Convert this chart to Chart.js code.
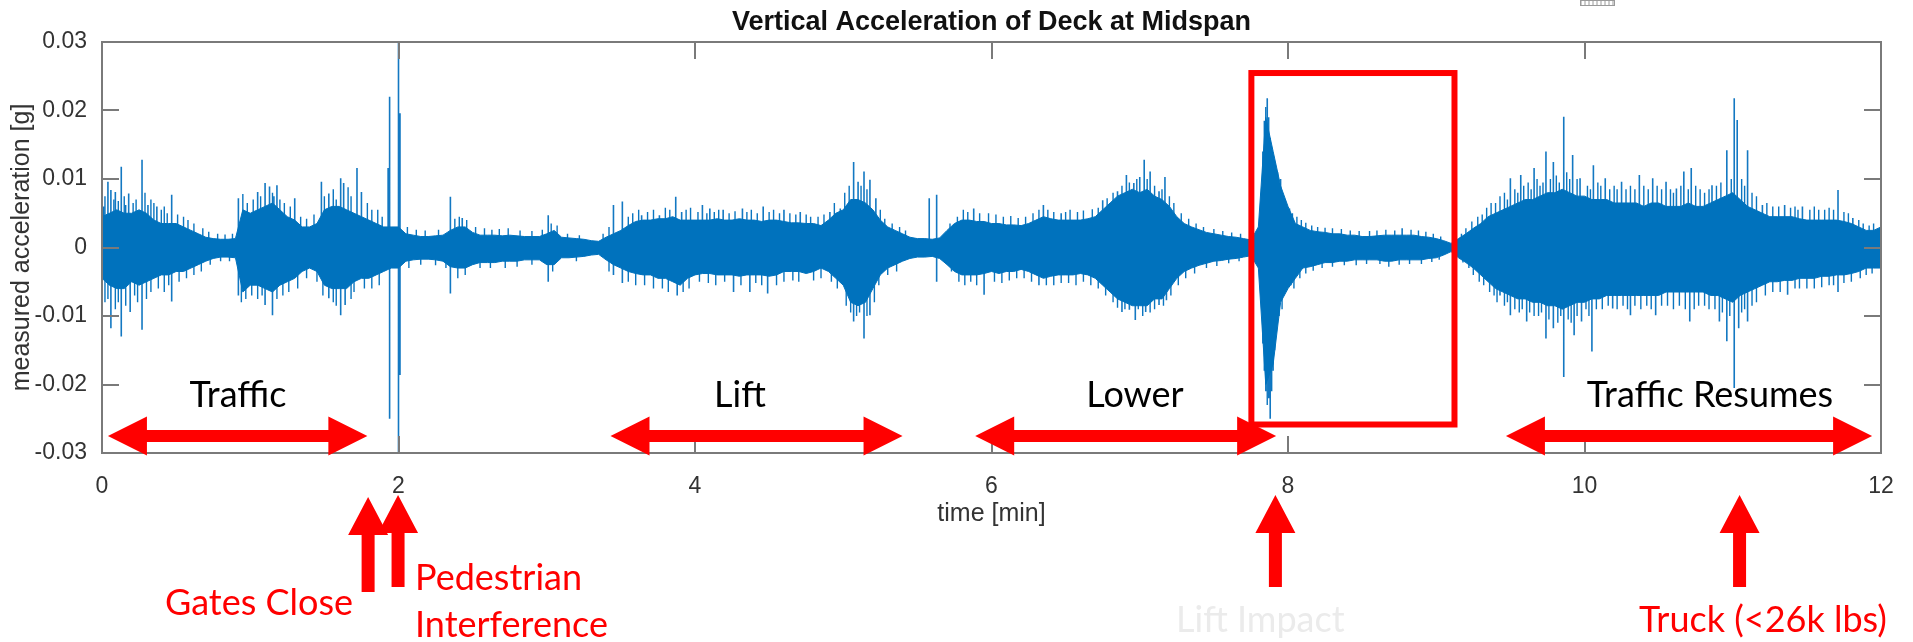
<!DOCTYPE html>
<html>
<head>
<meta charset="utf-8">
<script src="https://cdn.jsdelivr.net/npm/chart.js@4.4.1/dist/chart.umd.min.js"></script>
<style>
  html, body { margin: 0; padding: 0; background: #ffffff; overflow: hidden; }
  canvas { display: block; }
</style>
</head>
<body>
<canvas id="chart" width="1913" height="642"></canvas>
<script>
// ---- Text ----
const TITLE = 'Vertical Acceleration of Deck at Midspan';
const X_LABEL = 'time [min]';
const Y_LABEL = 'measured acceleration [g]';

// ---- Axis ticks ----
const xTickValues = [0, 2, 4, 6, 8, 10, 12];
const yTickValues = [-0.03, -0.02, -0.01, 0, 0.01, 0.02, 0.03];
const yTickLabels = ['-0.03', '-0.02', '-0.01', '0', '0.01', '0.02', '0.03'];

// ---- Signal: dense core envelope, sampled every 0.05 min (values in milli-g) ----
const envelopeStep = 0.05;
const envelopeUpper = [
  4.5, 5, 5.5, 5, 5, 5.5, 5, 4, 3.5, 3.5, 3.5, 3, 2.5, 2, 1.5, 1.3, 1.2, 1.2, 1.3, 5.5,
  5, 5.5, 6, 6.5, 5.5, 4.5, 4, 3, 3, 3.5, 5.5, 6, 6, 5.5, 5, 4.5, 4, 3.5, 3, 3,
  3, 2, 1.8, 1.6, 1.6, 1.7, 1.8, 2.5, 3, 3, 2.2, 1.8, 1.8, 1.8, 1.7, 1.8, 1.7, 1.6, 1.6, 1.6,
  2, 2.5, 1.5, 1.4, 1.3, 1.2, 1, 0.9, 1.5, 2, 2.5, 3.2, 3.8, 4, 4, 4.2, 4.2, 4.5, 4, 4,
  4, 4, 4, 4.2, 4, 4, 4.2, 4, 4, 3.8, 4, 4, 3.8, 3.6, 3.6, 3.5, 3.5, 3.2, 4, 5,
  5.5, 7, 7, 6.5, 5.5, 4, 3, 2.5, 2, 1.5, 1.3, 1.3, 1.2, 1.4, 2.5, 3.5, 4, 4, 3.8, 3.8,
  3.5, 3.5, 3.3, 3.3, 3.2, 3.5, 4, 4.5, 4.2, 4, 4, 4, 4, 4.2, 4.5, 5.5, 6.5, 7.5, 8, 8.5,
  8, 8.5, 7.5, 7, 6, 4.5, 3.5, 3, 2.6, 2.2, 2, 1.8, 1.6, 1.5, 1.3, 1.1, 3, 19, 14, 9,
  6, 3.5, 3, 2.5, 2.3, 2.2, 2, 2, 1.8, 1.8, 1.6, 1.6, 1.7, 1.8, 1.8, 1.8, 1.8, 1.8, 1.6, 1.5,
  1.3, 1, 0.6, 1.3, 2, 2.8, 3.5, 4.5, 5, 5.5, 6, 6.5, 7, 7, 7.5, 8, 8, 8.5, 8, 7.5,
  7.5, 7, 7, 7, 6.5, 6.5, 6.5, 6.5, 6, 6.5, 6.5, 6, 6, 6, 6.5, 6, 6, 6.5, 7, 7.5,
  8, 7, 6, 5.5, 5, 4.5, 4.5, 4.5, 4.5, 4.2, 4, 4, 4, 4, 4, 3.8, 3.5, 3, 2.5, 2.5,
  3
];
const envelopeLower = [
  -4.5, -5.5, -6, -6, -5, -5.5, -5, -4.5, -4, -4, -3.5, -3.5, -3, -2.5, -2, -1.6, -1.4, -1.4, -1.5, -6.5,
  -5.5, -5.5, -6, -6.5, -5.5, -5, -4.5, -3.5, -3, -3.5, -5.5, -6, -6, -6, -5, -4.5, -4.5, -4, -3.5, -3,
  -3, -2, -1.8, -1.7, -1.7, -1.8, -2, -2.8, -3, -3, -2.5, -2.2, -2.2, -2.2, -2, -2, -2, -1.8, -1.8, -1.8,
  -2.5, -2.5, -1.5, -1.5, -1.4, -1.3, -1.1, -1, -1.8, -2.5, -3, -3.5, -3.8, -4, -4, -4.5, -4.5, -5, -5.5, -4.5,
  -4, -3.8, -3.8, -4, -4, -4, -4.2, -4, -4, -4, -4.2, -4, -3.5, -3.5, -3.5, -3.8, -3.5, -3, -3.5, -4.5,
  -5.5, -8, -8.5, -8, -6, -4, -3, -2.5, -2, -1.6, -1.4, -1.4, -1.3, -1.6, -2.5, -3.5, -4, -4, -4, -3.8,
  -3.5, -3.8, -3.5, -3.5, -3.2, -3.5, -4, -4.5, -4.2, -4, -4, -4, -3.8, -4, -4.5, -5.5, -6.5, -7.5, -8, -8.5,
  -8.5, -8.5, -7.5, -7.5, -6, -4.5, -3.5, -3, -2.6, -2.3, -2, -1.9, -1.7, -1.6, -1.4, -1.2, -3, -20, -17, -8,
  -6, -4.5, -3, -2.8, -2.5, -2.2, -2.2, -2, -2, -1.8, -1.8, -1.8, -1.8, -2, -2, -1.8, -1.8, -1.8, -1.8, -1.6,
  -1.5, -1.1, -0.6, -1.5, -2.2, -3, -4, -5, -6, -6.5, -7, -7.5, -7.5, -8, -8, -8.5, -8.5, -9, -8.5, -8,
  -8, -7.5, -7.5, -7, -7, -7, -7, -7, -7, -7, -7, -6.5, -6.5, -6.5, -6.5, -6.5, -6.5, -7, -7, -7.5,
  -8, -7, -6.5, -6, -5.5, -5, -5, -4.8, -4.8, -4.5, -4.5, -4.5, -4.2, -4.2, -4, -4, -3.8, -3.5, -3, -3,
  -3
];

// ---- Signal: prominent peaks rising out of the core, [minute, milli-g] ----
const spikePeaks = [
  [0.04, 9.6], [0.06, 8.4], [0.09, 8.1], [0.13, 11.8], [0.18, 7.9], [0.27, 12.8], [0.31, 6.2], [0.37, 6], [0.47, 7.7],
  [0.92, 7.2], [1.05, 8.1], [1.10, 9.4], [1.13, 8.9], [1.18, 9.1], [1.30, 7.2], [1.48, 9.6], [1.53, 7.9], [1.61, 10.1],
  [1.63, 9.4], [1.72, 11.6], [1.75, 8.1], [1.93, 11.6], [1.94, 22], [2.00, 30], [2.01, 19.6],
  [2.35, 7.4], [2.43, 4.3], [3.01, 4.7], [3.45, 6.2], [3.51, 6.7], [3.64, 4.7], [3.76, 4.7], [3.87, 7.4], [3.91, 5.2],
  [4.05, 6.2], [4.10, 5.7], [4.19, 5.5], [4.32, 5.7], [4.46, 6], [4.60, 5.5], [4.71, 5.2], [4.91, 5.2], [4.98, 5.7],
  [5.07, 12.5], [5.10, 9.6], [5.14, 11.1], [5.18, 9.9], [5.22, 7.2], [5.58, 7.2], [5.63, 7.7], [5.88, 5.7],
  [6.35, 6.2], [6.47, 5], [6.75, 6.9], [6.85, 8.2], [6.91, 10.6], [6.96, 9.4], [7.00, 10.3], [7.03, 12.8], [7.07, 11.1],
  [7.13, 8.2], [7.17, 10.3], [7.86, 21.8], [7.91, 12.5], [7.95, 10],
  [8.01, 5.7], [8.77, 2.8], [9.50, 10.1], [9.57, 10.6], [9.66, 11.6], [9.74, 14], [9.79, 12.5], [9.86, 19.1], [9.92, 13.5],
  [9.97, 10.1], [10.06, 12], [10.14, 10.1], [10.25, 9.6], [10.37, 10.6], [10.46, 10.1], [10.55, 9.6], [10.62, 8.6],
  [10.67, 11.1], [10.72, 11.6], [10.86, 9.1], [10.96, 14.2], [11.01, 21.8], [11.03, 18.6], [11.10, 14.2], [11.20, 6.2],
  [11.35, 6.2], [11.47, 6], [11.71, 8.4], [11.81, 4.3], [11.98, 2.3],
  [0.06, -11.8], [0.13, -13], [0.19, -9.4], [0.27, -12], [0.47, -7.9], [0.92, -7], [1.10, -8.4], [1.15, -9.9],
  [1.53, -7.4], [1.61, -9.9], [1.64, -8.4], [1.94, -25], [2.00, -30], [2.01, -18.6],
  [2.35, -6.7], [3.01, -5], [3.45, -4], [3.51, -5.2], [3.88, -7],
  [4.26, -6.5], [4.37, -6.5], [4.49, -6.7], [5.07, -10.8], [5.14, -13.3], [5.18, -9.9], [5.63, -5], [5.95, -6.9],
  [6.32, -5.5], [6.88, -9.4], [6.93, -9.1], [6.97, -10.6], [7.04, -9.4], [7.13, -8.4], [7.18, -7.7], [7.87, -22], [7.88, -25],
  [7.97, -7], [9.43, -7], [9.50, -9.9], [9.61, -10.8], [9.74, -13.3], [9.79, -11.8], [9.86, -18.9], [9.93, -12.8],
  [9.98, -10.8], [10.05, -15.2], [10.19, -8.9], [10.31, -9.9], [10.48, -9.9], [10.71, -10.8], [10.91, -10.8],
  [10.96, -13.7], [11.01, -20.5], [11.04, -11.8], [11.10, -10.8], [11.37, -6.9], [11.71, -6.5]
];

// ---- Signal: smaller peaks along the edge of the core, [minute, milli-g] ----
const fringePeaks = [
  [0.01, 6], [0.02, 7.5], [0.08, 7], [0.11, 6.8], [0.15, 7.5], [0.16, 6.2], [0.21, 6.5], [0.23, 7], [0.29, 8], [0.33, 7],
  [0.35, 6.5], [0.40, 5.5], [0.42, 6], [0.44, 5], [0.51, 4.8], [0.55, 4.5], [0.58, 4], [0.62, 3.5], [0.68, 2.8], [0.72, 2.3],
  [0.78, 2], [0.83, 1.9], [0.88, 2],
  [0.02, -8], [0.04, -7.5], [0.09, -9], [0.11, -8], [0.16, -8.5], [0.22, -7], [0.24, -8], [0.30, -7.5], [0.33, -6.5],
  [0.38, -6], [0.42, -6.5], [0.45, -5.5], [0.52, -5], [0.57, -4.5], [0.62, -4], [0.67, -3.5], [0.73, -2.5], [0.80, -2], [0.86, -2],
  [0.95, 7.8], [0.98, 6.5], [1.02, 7], [1.07, 7.5], [1.15, 8], [1.16, 7.5], [1.20, 7], [1.23, 6.5], [1.27, 6], [1.34, 4.5],
  [1.38, 4.2], [1.43, 4.8], [1.50, 7.5], [1.56, 8.5], [1.58, 7], [1.66, 8.8], [1.68, 7.5], [1.79, 6.5], [1.82, 5.5],
  [1.86, 5.5], [1.89, 4.5],
  [0.94, -8], [0.97, -7.5], [1.01, -7], [1.05, -7.5], [1.08, -7], [1.18, -7.5], [1.22, -7], [1.26, -6.5], [1.32, -6],
  [1.38, -4.5], [1.45, -5], [1.49, -7], [1.56, -8], [1.58, -8.5], [1.68, -7.5], [1.70, -6.5], [1.77, -6], [1.82, -6], [1.87, -5.5],
  [2.06, 3], [2.12, 2.6], [2.18, 2.5], [2.27, 2.6], [2.38, 4.2], [2.41, 4.5], [2.46, 4], [2.52, 3], [2.58, 2.8], [2.63, 2.6],
  [2.68, 2.7], [2.74, 2.8], [2.82, 2.5], [2.90, 2.4], [2.97, 2.6], [3.03, 3.5], [3.07, 3.2], [3.14, 2], [3.22, 1.8], [3.38, 2],
  [3.42, 3], [3.55, 4.5], [3.58, 5], [3.62, 5.5], [3.68, 5.2], [3.72, 5.5], [3.80, 5.8], [3.83, 5.5], [3.94, 5.5], [3.97, 5.8],
  [2.07, -3], [2.15, -2.5], [2.25, -2.6], [2.32, -3], [2.40, -4.5], [2.45, -4], [2.55, -3], [2.62, -3], [2.72, -3], [2.80, -2.8],
  [2.90, -2.5], [3.04, -3.5], [3.20, -2], [3.42, -3.5], [3.55, -5], [3.60, -5.5], [3.66, -5.5], [3.72, -6], [3.78, -6],
  [3.82, -6.5], [3.92, -6.5], [3.96, -6],
  [4.02, 5.2], [4.08, 5], [4.13, 5.2], [4.16, 5.5], [4.23, 5], [4.27, 5.3], [4.35, 5.2], [4.38, 5.5], [4.42, 5], [4.50, 5.2],
  [4.53, 5.5], [4.57, 5], [4.64, 5], [4.68, 4.8], [4.75, 4.8], [4.78, 4.5], [4.83, 4.5], [4.87, 4.8], [4.94, 6.5], [5.01, 8],
  [5.04, 9], [5.12, 9], [5.16, 8.5], [5.25, 5.5], [5.28, 4.2], [5.33, 3.5], [5.38, 3], [5.42, 2.5], [5.72, 3.5], [5.77, 4.5],
  [5.81, 5.5], [5.84, 5.2], [5.92, 5], [5.98, 5],
  [4.03, -5], [4.09, -5.2], [4.14, -5.5], [4.20, -5], [4.31, -5.5], [4.41, -5.2], [4.45, -5.5], [4.55, -5.5], [4.60, -5],
  [4.66, -4.8], [4.70, -5], [4.80, -4.8], [4.85, -4.5], [4.92, -5], [4.96, -6], [5.02, -8.5], [5.05, -9.5], [5.09, -10],
  [5.11, -9.5], [5.16, -10], [5.21, -8], [5.24, -5.5], [5.30, -4], [5.36, -3.5], [5.73, -3.5], [5.78, -5], [5.82, -5.5],
  [5.86, -5], [5.90, -5.5],
  [6.03, 4.8], [6.08, 4.5], [6.13, 4.6], [6.18, 4.3], [6.23, 4.5], [6.28, 5], [6.32, 5.5], [6.38, 5.5], [6.42, 5.2], [6.50, 5.2],
  [6.53, 5.5], [6.58, 5.2], [6.62, 5.4], [6.68, 5.6], [6.72, 5.8], [6.78, 7.2], [6.82, 8], [6.88, 9], [6.93, 9.5], [6.98, 10],
  [7.05, 10], [7.10, 9], [7.15, 8.5], [7.20, 7.5], [7.23, 6.5], [7.28, 5], [7.33, 4.2], [7.38, 3.5], [7.43, 3], [7.50, 2.7],
  [7.56, 2.4], [7.62, 2.2], [7.68, 2],
  [6.02, -5], [6.07, -5.2], [6.12, -4.8], [6.17, -4.5], [6.22, -4.5], [6.27, -5], [6.37, -5.5], [6.42, -5.5], [6.47, -5.2],
  [6.52, -5.2], [6.57, -5.5], [6.62, -5], [6.67, -5.5], [6.72, -6], [6.77, -7], [6.82, -8], [6.85, -8.8], [6.90, -9],
  [6.99, -9], [7.02, -10], [7.07, -9.5], [7.10, -9], [7.16, -8.5], [7.21, -7], [7.26, -5.5], [7.31, -4.5], [7.37, -3.8],
  [7.45, -3], [7.52, -2.7], [7.60, -2.3], [7.67, -2],
  [7.82, 8], [7.83, 14], [7.84, 18.5], [7.85, 20.5], [7.87, 19], [7.88, 16], [7.89, 14], [7.90, 13], [7.93, 11], [7.94, 9],
  [7.96, 8], [7.98, 7],
  [7.82, -8], [7.83, -14], [7.84, -18], [7.85, -21], [7.86, -23], [7.89, -21], [7.90, -18], [7.91, -15], [7.92, -12],
  [7.94, -10], [7.96, -9],
  [8.03, 5], [8.06, 4.5], [8.09, 4], [8.12, 3.6], [8.16, 3.2], [8.20, 3], [8.25, 2.9], [8.30, 2.8], [8.36, 2.7], [8.42, 2.5],
  [8.48, 2.4], [8.55, 2.4], [8.60, 2.5], [8.66, 2.6], [8.72, 2.5], [8.83, 2.6], [8.88, 2.5], [8.93, 2.3], [8.98, 2], [9.03, 1.6],
  [8.02, -5.5], [8.04, -6], [8.08, -4.5], [8.12, -3.8], [8.17, -3.4], [8.23, -3], [8.30, -2.8], [8.38, -2.6], [8.46, -2.6],
  [8.53, -2.4], [8.62, -2.4], [8.68, -2.8], [8.75, -2.5], [8.82, -2.4], [8.90, -2.4], [8.97, -2.1], [9.02, -1.8],
  [9.17, 2], [9.20, 2.8], [9.24, 3.8], [9.28, 4.5], [9.31, 4.8], [9.34, 5.8], [9.37, 6.5], [9.40, 6.5], [9.43, 7.5], [9.46, 8],
  [9.48, 7], [9.53, 8.5], [9.55, 8], [9.59, 9], [9.62, 9.5], [9.64, 8.5], [9.68, 10], [9.70, 9], [9.72, 9.5], [9.77, 10],
  [9.81, 10.5], [9.83, 9.5], [9.88, 11], [9.90, 10], [9.95, 10],
  [9.18, -2.2], [9.22, -3], [9.25, -4], [9.29, -5], [9.32, -5.5], [9.36, -6.5], [9.39, -7], [9.41, -8], [9.46, -8.5],
  [9.48, -8], [9.53, -9], [9.56, -9.5], [9.58, -9], [9.63, -9.5], [9.66, -10], [9.69, -10], [9.71, -9.5], [9.76, -10.5],
  [9.82, -11], [9.84, -10], [9.89, -10.5], [9.91, -11], [9.95, -10],
  [10.02, 9], [10.04, 8.5], [10.09, 9.5], [10.11, 9], [10.17, 8.5], [10.20, 9], [10.22, 8.5], [10.28, 8.5], [10.31, 9],
  [10.34, 8.5], [10.40, 9], [10.43, 8.5], [10.49, 9], [10.52, 8.5], [10.58, 8.5], [10.60, 8], [10.65, 9], [10.70, 8.5],
  [10.75, 9], [10.78, 8.5], [10.81, 8], [10.84, 8.5], [10.89, 9], [10.92, 9.5], [10.99, 10], [11.06, 10], [11.08, 9],
  [11.13, 8], [11.16, 7.5], [11.23, 6.5], [11.27, 6], [11.31, 6], [11.39, 5.8], [11.42, 6], [11.44, 5.5], [11.52, 5.5],
  [11.55, 6], [11.58, 5.5], [11.62, 5.5], [11.65, 5.8], [11.68, 5.5], [11.75, 5.2], [11.78, 5], [11.85, 4], [11.88, 3.5],
  [11.92, 3.2], [11.95, 3.5],
  [10.01, -9], [10.03, -10], [10.08, -9], [10.12, -9], [10.16, -8.5], [10.22, -9], [10.26, -8.5], [10.29, -9], [10.34, -8.5],
  [10.38, -9], [10.42, -8.5], [10.45, -9], [10.52, -8.5], [10.56, -8.5], [10.60, -9], [10.64, -8.5], [10.68, -9], [10.74, -9],
  [10.77, -8.5], [10.81, -8.5], [10.84, -9], [10.88, -9], [10.93, -9.5], [10.98, -10], [11.06, -9.5], [11.08, -9],
  [11.13, -8.5], [11.16, -8], [11.22, -7], [11.27, -6.5], [11.32, -6.5], [11.42, -6], [11.45, -6], [11.50, -6], [11.55, -6],
  [11.60, -5.8], [11.65, -5.5], [11.68, -5.5], [11.75, -5.2], [11.80, -5], [11.86, -4.5], [11.90, -4], [11.94, -3.8]
];

// ---- Annotations (phases and events, in minutes) ----
const phaseNames = ['Traffic', 'Lift', 'Lower', 'Traffic Resumes'];
const phaseStart = [0.04, 3.43, 5.89, 9.47];
const phaseEnd = [1.79, 5.40, 7.92, 11.94];
const eventTimes = [1.795, 1.997, 7.915, 11.046];
const highlightWindow = { from: 7.753, to: 9.123, top: 0.02547, bottom: -0.02584 };

const MILLI = 0.001;
const BLUE = '#0072BD';
const RED = '#FF0000';
const MATLAB_FONT = '"Liberation Sans", Arial, Helvetica, sans-serif';
const NOTE_FONT = 'Lato, "Open Sans", sans-serif';

const upperPoints = envelopeUpper.map((v, i) => ({ x: i * envelopeStep, y: v * MILLI }));
const lowerPoints = envelopeLower.map((v, i) => ({ x: i * envelopeStep, y: v * MILLI }));
function peakSegments(peaks) {
  const pts = [];
  peaks.forEach(([t, v]) => pts.push({ x: t, y: 0 }, { x: t, y: v * MILLI }, { x: t, y: null }));
  return pts;
}

function doubleArrow(ctx, x1, x2, yc) {
  const shaft = 6, headLen = 39, headHalf = 19.5;
  ctx.beginPath();
  ctx.moveTo(x1, yc);
  ctx.lineTo(x1 + headLen, yc - headHalf);
  ctx.lineTo(x1 + headLen, yc - shaft);
  ctx.lineTo(x2 - headLen, yc - shaft);
  ctx.lineTo(x2 - headLen, yc - headHalf);
  ctx.lineTo(x2, yc);
  ctx.lineTo(x2 - headLen, yc + headHalf);
  ctx.lineTo(x2 - headLen, yc + shaft);
  ctx.lineTo(x1 + headLen, yc + shaft);
  ctx.lineTo(x1 + headLen, yc + headHalf);
  ctx.closePath();
  ctx.fill();
}

function upArrow(ctx, xc, tip, bottom) {
  const headH = 38, headHalf = 20, shaftHalf = 6.5;
  ctx.beginPath();
  ctx.moveTo(xc, tip);
  ctx.lineTo(xc + headHalf, tip + headH);
  ctx.lineTo(xc + shaftHalf, tip + headH);
  ctx.lineTo(xc + shaftHalf, bottom);
  ctx.lineTo(xc - shaftHalf, bottom);
  ctx.lineTo(xc - shaftHalf, tip + headH);
  ctx.lineTo(xc - headHalf, tip + headH);
  ctx.closePath();
  ctx.fill();
}

const figureDecor = {
  id: 'figureDecor',
  afterDraw(chart) {
    const { ctx, chartArea: a, scales: { x, y } } = chart;
    ctx.save();

    // box with inward ticks on all four sides
    ctx.strokeStyle = '#7a7a7a';
    ctx.lineWidth = 2;
    ctx.strokeRect(a.left, a.top, a.right - a.left, a.bottom - a.top);
    const tl = 17;
    ctx.beginPath();
    xTickValues.forEach(v => {
      const px = Math.round(x.getPixelForValue(v));
      ctx.moveTo(px, a.bottom); ctx.lineTo(px, a.bottom - tl);
      ctx.moveTo(px, a.top); ctx.lineTo(px, a.top + tl);
    });
    yTickValues.forEach(v => {
      const py = Math.round(y.getPixelForValue(v));
      ctx.moveTo(a.left, py); ctx.lineTo(a.left + tl, py);
      ctx.moveTo(a.right, py); ctx.lineTo(a.right - tl, py);
    });
    ctx.stroke();

    // title and axis labels
    ctx.fillStyle = '#111111';
    ctx.font = 'bold 27px ' + MATLAB_FONT;
    ctx.textAlign = 'center';
    ctx.textBaseline = 'middle';
    ctx.fillText(TITLE, (a.left + a.right) / 2, 23);

    ctx.fillStyle = '#333333';
    ctx.font = '25px ' + MATLAB_FONT;
    ctx.fillText(X_LABEL, (a.left + a.right) / 2, 514);
    ctx.save();
    ctx.translate(22, (a.top + a.bottom) / 2);
    ctx.rotate(-Math.PI / 2);
    ctx.fillText(Y_LABEL, 0, 0);
    ctx.restore();

    // small scale-bar glyph in the top margin
    ctx.strokeStyle = '#9a9a9a';
    ctx.lineWidth = 1;
    ctx.strokeRect(1580.5, 0.5, 34, 5);
    ctx.beginPath();
    for (let k = 0; k <= 8; k++) { ctx.moveTo(1581 + k * 4, 1); ctx.lineTo(1581 + k * 4, 5); }
    ctx.stroke();

    // phase arrows and labels
    const arrowY = y.getPixelForValue(-0.02752);
    ctx.fillStyle = RED;
    phaseNames.forEach((name, i) => {
      doubleArrow(ctx, x.getPixelForValue(phaseStart[i]), x.getPixelForValue(phaseEnd[i]), arrowY);
    });
    ctx.fillStyle = '#000000';
    ctx.font = '36px ' + NOTE_FONT;
    ctx.textAlign = 'center';
    ctx.textBaseline = 'alphabetic';
    const labelCenters = [238, 740, 1135, 1710];
    phaseNames.forEach((name, i) => ctx.fillText(name, labelCenters[i], 407));

    // highlighted window around the lift impact
    ctx.strokeStyle = RED;
    ctx.lineWidth = 6;
    const rx1 = x.getPixelForValue(highlightWindow.from), rx2 = x.getPixelForValue(highlightWindow.to);
    const ry1 = y.getPixelForValue(highlightWindow.top), ry2 = y.getPixelForValue(highlightWindow.bottom);
    ctx.strokeRect(rx1, ry1, rx2 - rx1, ry2 - ry1);

    // event arrows below the axis
    ctx.fillStyle = RED;
    upArrow(ctx, x.getPixelForValue(eventTimes[0]), 497, 592);
    upArrow(ctx, x.getPixelForValue(eventTimes[1]), 495, 587);
    upArrow(ctx, x.getPixelForValue(eventTimes[2]), 495, 587);
    upArrow(ctx, x.getPixelForValue(eventTimes[3]), 495, 587);

    ctx.font = '36px ' + NOTE_FONT;
    ctx.textAlign = 'left';
    ctx.fillStyle = RED;
    ctx.fillText('Gates Close', 165, 615);
    ctx.fillText('Pedestrian', 415, 590);
    ctx.fillText('Interference', 415, 637);
    ctx.fillText('Truck (<26k lbs)', 1639, 632);
    ctx.fillStyle = '#ebebeb';
    ctx.fillText('Lift Impact', 1176, 632);

    ctx.restore();
  }
};

new Chart(document.getElementById('chart'), {
  type: 'line',
  data: {
    datasets: [
      { data: upperPoints, fill: '+1', backgroundColor: BLUE, borderColor: BLUE, borderWidth: 1, pointRadius: 0, tension: 0, order: 1 },
      { data: lowerPoints, fill: false, borderColor: BLUE, borderWidth: 1, pointRadius: 0, tension: 0, order: 1 },
      { data: peakSegments(fringePeaks), fill: false, borderColor: '#0a75c0', borderWidth: 1.4, pointRadius: 0, tension: 0, spanGaps: false, order: 2 },
      { data: peakSegments(spikePeaks), fill: false, borderColor: '#1378C2', borderWidth: 1.6, pointRadius: 0, tension: 0, spanGaps: false, order: 3 }
    ]
  },
  options: {
    responsive: false,
    animation: false,
    events: [],
    layout: { padding: { top: 42, right: 32, left: 0, bottom: 0 } },
    plugins: { legend: { display: false }, tooltip: { enabled: false }, title: { display: false } },
    scales: {
      x: {
        type: 'linear', min: 0, max: 12,
        grid: { display: false }, border: { display: false },
        afterBuildTicks: s => { s.ticks = xTickValues.map(v => ({ value: v })); },
        afterFit: s => { s.height = 189; },
        ticks: { padding: 12, maxRotation: 0, color: '#333333', font: { family: MATLAB_FONT, size: 23 }, callback: v => String(v) }
      },
      y: {
        type: 'linear', min: -0.03, max: 0.03,
        grid: { display: false }, border: { display: false },
        afterBuildTicks: s => { s.ticks = yTickValues.map(v => ({ value: v })); },
        afterFit: s => { s.width = 102; },
        ticks: { padding: 7, color: '#333333', font: { family: MATLAB_FONT, size: 23 },
          callback: (v, i) => yTickLabels[i] }
      }
    }
  },
  plugins: [figureDecor]
});
</script>
</body>
</html>
